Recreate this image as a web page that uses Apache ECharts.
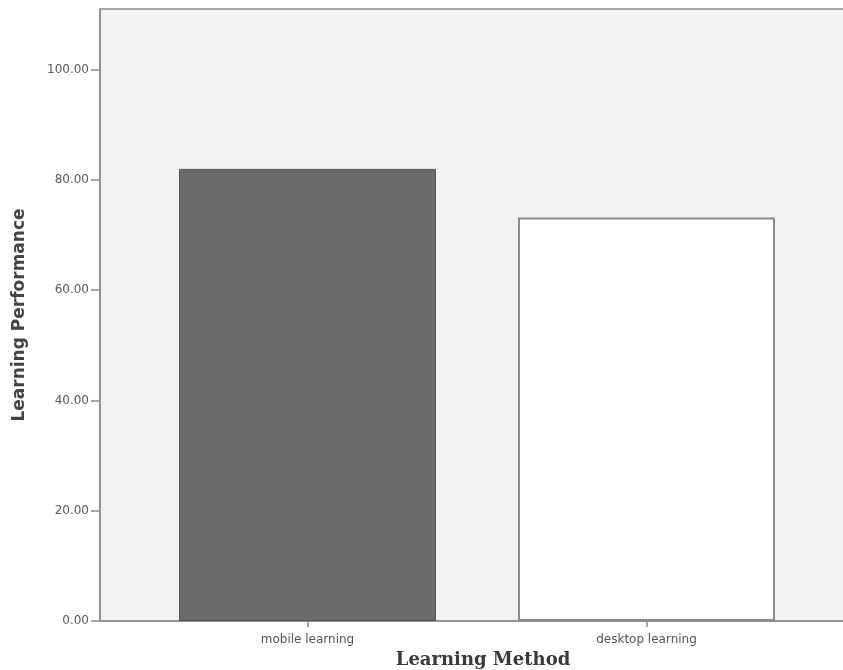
<!DOCTYPE html>
<html>
<head>
<meta charset="utf-8">
<script src="https://cdn.jsdelivr.net/npm/echarts@6/dist/echarts.min.js"></script>
<style>
  html, body { margin: 0; padding: 0; background: #ffffff; }
  #chart { width: 843px; height: 670px; }
</style>
</head>
<body>
<div id="chart"></div>
<script>
// Mean learning performance by learning method
const categories = ['mobile learning', 'desktop learning'];
const performance = [82.0, 73.2];
const yTicks = [0, 20, 40, 60, 80, 100];

const barStyles = [
  { color: '#6b6b6b', borderColor: '#555555', borderWidth: 1 },
  { color: '#ffffff', borderColor: '#8a8a8a', borderWidth: 2 }
];

const Y_MAX = 111;
const SANS = 'DejaVu Sans, Verdana, sans-serif';

const chart = echarts.init(document.getElementById('chart'), null, { renderer: 'canvas' });

chart.setOption({
  animation: false,
  backgroundColor: '#ffffff',
  grid: [
    // frame: shaded plot area with the value axis (right edge runs off the page)
    { left: 100, right: -6, top: 9, bottom: 49, show: true, outerBoundsMode: 'none',
      backgroundColor: '#f2f2f2', borderColor: '#8c8c8c', borderWidth: 1.5 },
    // bars
    { left: 138, right: 27, top: 9, bottom: 49, outerBoundsMode: 'none' }
  ],
  xAxis: [
    { gridIndex: 0, type: 'value', min: 0, max: 1,
      axisLine: { show: true, lineStyle: { color: '#8c8c8c', width: 1.5 } },
      axisTick: { show: false }, axisLabel: { show: false }, splitLine: { show: false } },
    { gridIndex: 1, type: 'category', data: categories,
      axisLine: { show: false },
      axisTick: { show: true, alignWithLabel: true, length: 6,
        lineStyle: { color: '#8c8c8c', width: 1.5 } },
      axisLabel: { margin: 13, fontSize: 12, color: '#555555', fontFamily: SANS },
      name: 'Learning Method', nameLocation: 'middle', nameGap: 25,
      nameTextStyle: { fontFamily: 'DejaVu Serif, Georgia, serif', padding: [0, 0, 0, 12],
        fontWeight: 'bold', fontSize: 18, color: '#3a3a3a' } }
  ],
  yAxis: [
    { gridIndex: 0, type: 'value', min: 0, max: Y_MAX,
      interval: yTicks[1] - yTicks[0],
      axisLine: { show: true, lineStyle: { color: '#8c8c8c', width: 1.5 } },
      axisTick: { show: true, length: 9, customValues: yTicks,
        lineStyle: { color: '#8c8c8c', width: 1.5 } },
      axisLabel: { margin: 11, fontSize: 12, color: '#5a5a5a', customValues: yTicks,
        fontFamily: SANS,
        formatter: v => Number(v).toFixed(2) },
      splitLine: { show: false },
      name: 'Learning Performance', nameLocation: 'middle', nameGap: 72, nameRotate: 90,
      nameTextStyle: { fontFamily: SANS, fontWeight: 'bold', fontSize: 17, color: '#444444' } },
    { gridIndex: 1, type: 'value', min: 0, max: Y_MAX, show: false }
  ],
  series: [{
    type: 'bar',
    xAxisIndex: 1,
    yAxisIndex: 1,
    barWidth: 257,
    data: performance.map((v, i) => ({ value: v, itemStyle: barStyles[i] }))
  }]
});
</script>
</body>
</html>
